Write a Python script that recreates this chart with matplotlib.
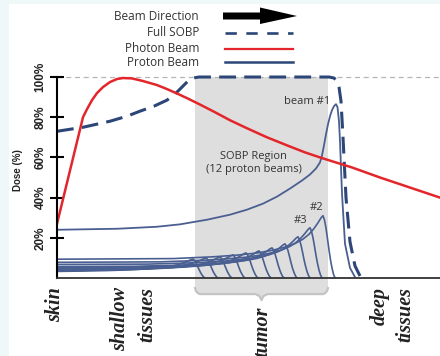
import numpy as np
import matplotlib
matplotlib.use('Agg')
import matplotlib.pyplot as plt
from matplotlib.patches import Polygon, Rectangle
from matplotlib.lines import Line2D

# depth runs from the skin (0) to the right edge (383); dose in %
photon_x = [0, 26, 30, 35, 40, 46, 53, 60, 66, 75, 86, 100, 110, 120, 130, 143, 156, 173,
            190, 210, 230, 248, 266, 295, 323, 353, 383]
photon_dose = [27, 80, 84, 88.5, 92, 95, 97.5, 99, 99.5, 99.3, 98, 96, 94, 91.8, 89.5, 86.3,
               83, 78.5, 74.5, 70, 66, 62.5, 59.5, 55, 50, 45, 40]

sobp_x = [0, 26, 53, 70, 83, 97, 110, 118, 125, 131, 136, 142, 272, 277, 280, 282, 284, 286,
          289, 293, 298, 303]
sobp_dose = [73, 75, 78, 80.5, 83, 85.5, 88.5, 91.5, 95, 98, 99.5, 100, 100, 99.5, 98, 95,
             88, 70, 40, 18, 6, 1]

beam1_x = [0, 60, 100, 123, 150, 173, 190, 206, 220, 233, 245, 253, 259, 263, 265, 267, 269,
           271, 273, 275, 277, 279, 280.5, 282, 283, 285, 288, 293, 298]
beam1_dose = [24, 24.5, 25.5, 26.7, 29, 31.5, 34, 37, 40.5, 44.5, 48.5, 51.5, 54.5, 57.5, 61,
              66, 71.5, 76.5, 80.5, 83.5, 85.5, 86.5, 85, 78, 68, 42, 17, 5, 0.5]

# beams #2 .. #12 (peak depth, peak dose, entrance dose)
small_peak_x = [266, 253, 241, 228, 215, 202, 189, 176, 163, 149, 136]
small_peak_dose = [31, 25, 20.5, 17, 15, 13.5, 12.5, 11.5, 10.5, 10, 9.5]
small_entry_dose = [9, 7.5, 6.5, 5.5, 5, 4.5, 4, 4, 3.5, 3.5, 3]

rise_dx = [-400, -150, -110, -85, -65, -50, -38, -28, -20, -14, -9, -5, -2, 0]
rise_frac = [0, 0.03, 0.07, 0.11, 0.16, 0.22, 0.29, 0.37, 0.47, 0.58, 0.71, 0.84, 0.95, 1]
fall_dx = [1.5, 3, 4.5, 6, 7.5, 9, 10.5, 12]
fall_frac = [0.93, 0.8, 0.63, 0.45, 0.29, 0.16, 0.06, 0]

tumor_start, tumor_end = 138, 271
y_ticks = [20, 40, 60, 80, 100]
y_labels = ['20%', '40%', '60%', '80%', '100%']
tissue_labels = ['skin', 'shallow', 'tissues', 'tumor', 'deep', 'tissues']
tissue_x = [-2, 63, 90, 205, 323, 348]
tissue_top = [-4.5, -4.5, -4.5, -14.4, -4.5, -4.5]

RED = '#e3262b'
NAVY = '#2c4678'
PROTON = '#4a5f91'
TXT = '#333333'

W, H = 440, 356
fig = plt.figure(figsize=(W / 100, H / 100), dpi=100, facecolor='#eef8f8')
fig.add_artist(Rectangle((9 / W, 0), 1, 1 - 4 / H, transform=fig.transFigure,
                         facecolor='white', edgecolor='none', zorder=0))


def fx(px):
    return px / W


def fy(py):
    return 1 - py / H


ax = fig.add_axes([fx(57), fy(278), 383 / W, (278 - 73) / H])
ax.set_facecolor('none')
ax.set_xlim(0, 383)
ax.set_ylim(0, 102)

# tumor region with brace below the axis
mid = (tumor_start + tumor_end) / 2
brace = [(tumor_end, -5), (tumor_end - 1, -6.5), (tumor_end - 3, -7.6), (tumor_end - 5, -8),
         (mid + 6, -8), (mid + 2, -9), (mid, -11), (mid - 2, -9), (mid - 6, -8),
         (tumor_start + 5, -8), (tumor_start + 3, -7.6), (tumor_start + 1, -6.5), (tumor_start, -5)]
ax.add_patch(Polygon([(tumor_start, 100), (tumor_end, 100)] + brace, closed=True,
                     facecolor='#dedede', edgecolor='none', zorder=1, clip_on=False))
bx, by = zip(*brace)
ax.plot(bx, by, color='#c4c4c4', lw=1.6, zorder=1, clip_on=False)

ax.axhline(100, color='#b5b5b5', lw=0.9, ls=(0, (4, 3)), zorder=1.5)

for xp, pk, en in zip(small_peak_x, small_peak_dose, small_entry_dose):
    xs = [xp + d for d in rise_dx] + [xp + d for d in fall_dx]
    ys = [en + f * (pk - en) for f in rise_frac] + [f * pk for f in fall_frac]
    ax.plot(xs, ys, color=PROTON, lw=1.2, zorder=3)

ax.plot(beam1_x, beam1_dose, color=PROTON, lw=1.3, zorder=3)
ax.plot(sobp_x, sobp_dose, color=NAVY, lw=2.2, ls=(0, (5.5, 2.7)), zorder=4,
        solid_capstyle='round', clip_on=False)
ax.plot(photon_x, photon_dose, color=RED, lw=1.8, zorder=5)

ax.text(250, 87.6, 'beam #1', fontsize=8, color=TXT, ha='center', va='center', family='Open Sans')
ax.text(196, 60.7, 'SOBP Region', fontsize=8, color=TXT, ha='center', va='center', family='Open Sans')
ax.text(197, 54, '(12 proton beams)', fontsize=8, color=TXT, ha='center', va='center', family='Open Sans')
ax.text(260, 35, '#2', fontsize=8, color=TXT, ha='center', va='center', family='Open Sans')
ax.text(244, 28.4, '#3', fontsize=8, color=TXT, ha='center', va='center', family='Open Sans')

for lab, x, top in zip(tissue_labels, tissue_x, tissue_top):
    ax.text(x, top, lab, rotation=90, ha='center', va='top', fontsize=14.5,
            family='Liberation Serif', fontweight='bold', fontstyle='italic',
            color='#222222', clip_on=False)

for s in ['top', 'right']:
    ax.spines[s].set_visible(False)
ax.spines['left'].set_bounds(0, 100)
ax.spines['left'].set_linewidth(1.5)
ax.spines['left'].set_color('black')
ax.spines['bottom'].set_linewidth(1.3)
ax.spines['bottom'].set_color('#333333')
ax.spines['left'].set_zorder(6)
ax.spines['bottom'].set_zorder(6)
ax.set_xticks([])
ax.set_yticks(y_ticks)
ax.set_yticklabels(y_labels)
ax.tick_params(axis='y', direction='inout', length=10, width=1.5, pad=2.5, labelsize=8.5)
for t in ax.get_yticklabels():
    t.set_rotation(90)
    t.set_va('center')
    t.set_fontweight('bold')
    t.set_family('Liberation Sans')
    t.set_color('#222222')

fig.text(fx(18), fy(170), 'Dose (%)', rotation=90, ha='center', va='center', fontsize=7,
         fontweight='bold', family='Liberation Sans', color='#222222')

# legend drawn by hand above the plot
leg_names = ['Beam Direction', 'Full SOBP', 'Photon Beam', 'Proton Beam']
leg_y = [17, 33, 48, 62]
for name, py in zip(leg_names, leg_y):
    fig.text(fx(199), fy(py), name, ha='right', va='center', fontsize=8.5,
             family='Open Sans', color=TXT)
fig.add_artist(Polygon([(fx(223), fy(12.5)), (fx(260), fy(12.5)), (fx(260), fy(7.5)),
                        (fx(297), fy(16)), (fx(260), fy(24)), (fx(260), fy(19.5)),
                        (fx(223), fy(19.5))], closed=True, transform=fig.transFigure,
                       facecolor='black', edgecolor='none'))
fig.add_artist(Line2D([fx(225), fx(293)], [fy(33), fy(33)], transform=fig.transFigure,
                      color=NAVY, lw=1.9, ls=(0, (4.3, 3.6))))
fig.add_artist(Line2D([fx(225), fx(293)], [fy(48.5), fy(48.5)], transform=fig.transFigure,
                      color=RED, lw=1.6))
fig.add_artist(Line2D([fx(225), fx(293)], [fy(62), fy(62)], transform=fig.transFigure,
                      color=NAVY, lw=1.8))

fig.savefig('out.png', dpi=100, facecolor=fig.get_facecolor())
